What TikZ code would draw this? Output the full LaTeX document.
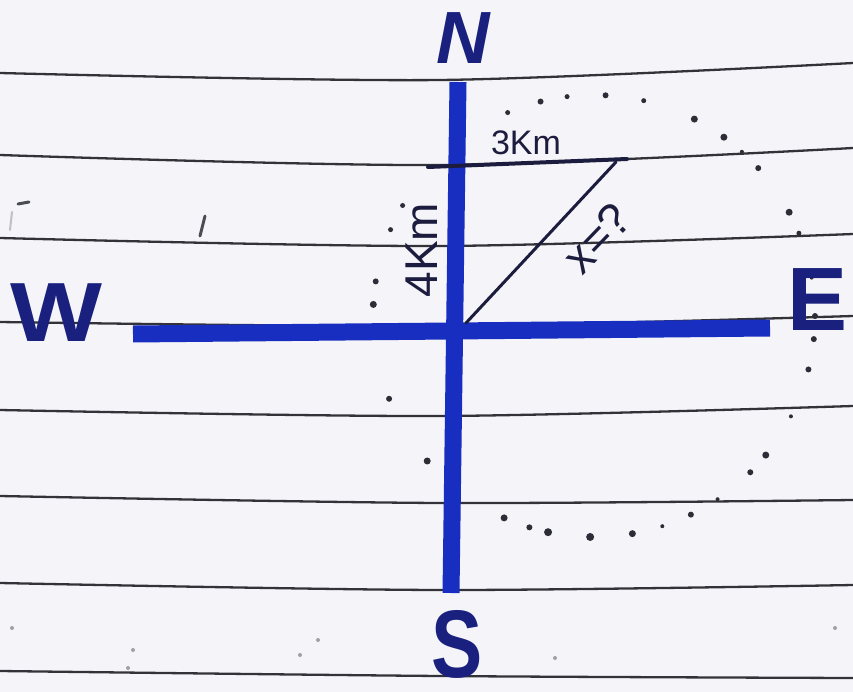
\documentclass[tikz,border=0pt]{standalone}
\usepackage{fontspec}
\setmainfont{Liberation Sans}
\definecolor{paper}{RGB}{245,245,249}
\definecolor{rulec}{RGB}{50,50,56}
\definecolor{pen}{RGB}{24,46,192}
\definecolor{ink}{RGB}{26,32,125}
\definecolor{pencil}{RGB}{28,28,62}
\definecolor{dotc}{RGB}{45,45,55}
\begin{document}
\begin{tikzpicture}[x=1pt,y=-1pt,
  ruleline/.style={draw=rulec, line width=2.3pt},
  penbar/.style={draw=pen, line width=17pt},
  pencilline/.style={draw=pencil, line width=4pt, line cap=round},
  compass/.style={text=ink, inner sep=0pt},
  klabel/.style={text=pencil, inner sep=0pt},
  noise/.style={draw=dotc!55, line width=2pt, line cap=round}
]
\fill[paper] (0,0) rectangle (853,692);
\useasboundingbox (0,0) rectangle (853,692);

% notebook rules
\draw[ruleline] plot[smooth] coordinates {(0,73) (440,80) (853,63)};
\draw[ruleline] plot[smooth] coordinates {(0,155) (440,165) (853,148)};
\draw[ruleline] plot[smooth] coordinates {(0,238) (440,246) (853,234)};
\draw[ruleline] plot[smooth] coordinates {(0,322) (440,326) (853,316)};
\draw[ruleline] plot[smooth] coordinates {(0,410) (440,416) (853,406)};
\draw[ruleline] plot[smooth] coordinates {(0,496) (440,503) (853,500)};
\draw[ruleline] plot[smooth] coordinates {(0,583) (440,590) (853,585)};
\draw[ruleline] plot[smooth] coordinates {(0,671) (440,676) (853,678)};

% faint marks
\draw[noise, draw=dotc!85, line width=3pt] (205,216) -- (200,236);
\draw[noise, draw=dotc!85, line width=3pt] (18,204) -- (29,202);
\draw[noise, draw=dotc!30] (12,212) -- (10,230);
\foreach \px/\py in {12/628, 133/650, 128/668, 300/655, 318/640, 555/658, 835/628}
  \fill[dotc!45] (\px,\py) circle (2pt);

% dotted circle (pencil dots)
\foreach \a/\s in {0/3, -6/3, -14/3, -27/2, -39/3.5, -45/3, -56/2, -64/3, -72/2, -80/3.5, -91/4, -102/4, -107/3, -114/3.5,
                   -139/3.5, -158/3, 177/3.5, 171/3, 157/2.5, 150/2.5, 113/2.5, 104/3, 97/2.5, 87/3, 77/2.5, 63/3.5, 54/3.5, 48/2, 42/3, 28/3.5, 22/2.5, 10/2}
  \fill[dotc] ({594+221*cos(\a)},{316-221*sin(\a)}) circle (\s pt);

% compass cross
\coordinate (ntop) at (458,82);
\coordinate (sbot) at (451,593);
\coordinate (wend) at (133,334);
\coordinate (eend) at (770,328);
\draw[penbar] (ntop) -- (sbot);
\draw[penbar] (wend) -- (eend);

% pencil triangle
\coordinate (a) at (428,167);
\coordinate (b) at (627,159);
\coordinate (b2) at (616,162);
\coordinate (o) at (466,323);
\draw[pencilline] (a) -- (b);
\draw[pencilline, line width=3pt] (b2) -- (o);

% compass letters
\node[compass, font=\bfseries\itshape\fontsize{74}{74}\selectfont] (N) at (463,38) {N};
\node[compass, font=\bfseries\fontsize{84}{84}\selectfont, xscale=1.16] (W) at (56,313) {W};
\node[compass, font=\bfseries\fontsize{90}{90}\selectfont] (E) at (818,300) {E};
\node[compass, font=\bfseries\fontsize{96}{96}\selectfont, xscale=0.8] (S) at (457,644) {S};

% distance labels
\node[klabel, font=\fontsize{34}{34}\selectfont] (km3) at (526,143) {3Km};
\node[klabel, font=\fontsize{46}{46}\selectfont, rotate=90] (km4) at (422,250) {4Km};
\node[klabel, font=\fontsize{46}{46}\selectfont, rotate=46] (xq) at (597,238) {x=?};
\end{tikzpicture}
\end{document}
